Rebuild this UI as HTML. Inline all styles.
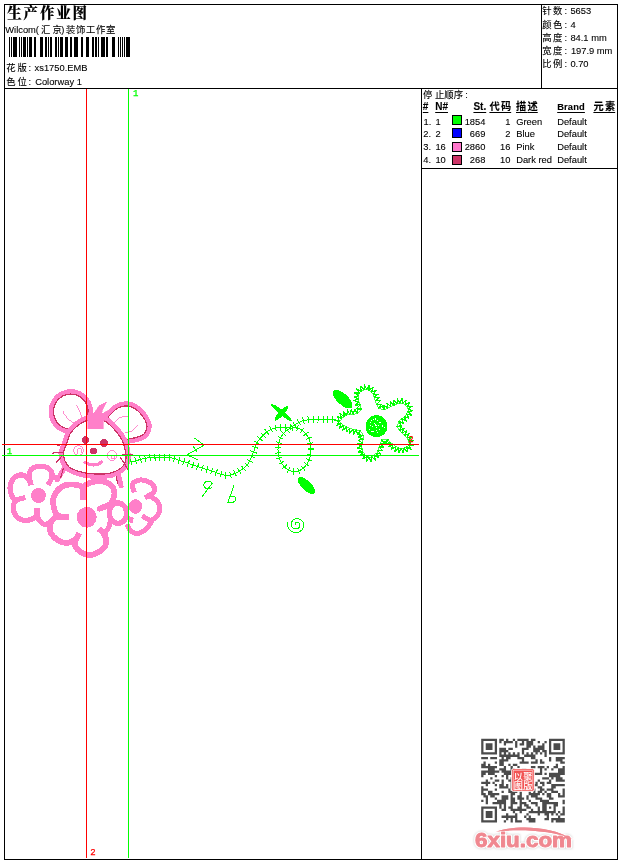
<!DOCTYPE html>
<html lang="zh-CN">
<head>
<meta charset="utf-8">
<title>生产作业图</title>
<style>
html,body{margin:0;padding:0;background:#fff;}
body{width:620px;height:860px;position:relative;overflow:hidden;font-family:"Liberation Sans","Noto Sans CJK SC",sans-serif;font-size:9.33px;color:#000;}
.t{position:absolute;white-space:pre;line-height:12px;height:12px;-webkit-text-stroke:0.1px #000;}
.k{font-size:9.33px;}
.ln{position:absolute;background:#000;}
.b{font-weight:bold;}
.u{text-decoration:underline;text-decoration-thickness:1px;text-underline-offset:1.6px;text-decoration-skip-ink:none;}
.r{text-align:right;}
svg{position:absolute;left:0;top:0;}
</style>
</head>
<body>
<svg width="620" height="860" viewBox="0 0 620 860" shape-rendering="crispEdges">
<path d="M65 467L57.5 479.5" fill="none" stroke="#ff7fc9" stroke-width="5" stroke-linecap="round" stroke-linejoin="round"/>
<path d="M117.5 470L121 486" fill="none" stroke="#ff7fc9" stroke-width="5" stroke-linecap="round" stroke-linejoin="round"/>
<path d="M64.5 465L60.5 478" fill="none" stroke="#cc3366" stroke-width="1.2"/>
<path d="M115.5 473L117.7 484" fill="none" stroke="#cc3366" stroke-width="1.2"/>
<path d="M31 485C30.8 483.8 29.6 480.3 29.5 478C29.4 475.7 29.4 472.8 30.2 471C30.9 469.2 32.4 468.3 34 467.5C35.6 466.7 37.8 466.2 40 466.2C42.2 466.2 45.1 466.5 47 467.5C48.9 468.5 50.7 470.4 51.5 472C52.3 473.6 52.2 475.6 52 477C51.8 478.4 51.2 479.2 50.5 480.5C49.8 481.8 48.4 484.2 48 485" fill="none" stroke="#ff7fc9" stroke-width="5.2" stroke-linecap="butt" stroke-linejoin="round"/>
<path d="M31 485C30.6 484.1 29.7 481.1 28.5 479.5C27.3 477.9 25.8 476.2 24 475.5C22.2 474.8 19.8 474.9 18 475.5C16.2 476.1 14.3 476.9 13 479C11.7 481.1 10.2 485.3 10 488C9.8 490.7 10.7 493.1 11.5 495C12.3 496.9 12.7 499.1 15 499.5C17.3 499.9 23.8 497.8 25.5 497.5" fill="none" stroke="#ff7fc9" stroke-width="5.2" stroke-linecap="butt" stroke-linejoin="round"/>
<path d="M25.5 497.5C23.9 498 18 499.1 16 500.5C14 501.9 13.8 504.1 13.5 506C13.2 507.9 13.2 510 14 512C14.8 514 16.3 516.6 18 518C19.7 519.4 21.8 520.2 24 520.5C26.2 520.8 29 520.2 31 519.5C33 518.8 35 517.8 36 516C37 514.2 36.8 509.8 37 508.5" fill="none" stroke="#ff7fc9" stroke-width="5.2" stroke-linecap="butt" stroke-linejoin="round"/>
<path d="M37 508.5C37.1 509.9 36.8 514.8 37.5 517C38.2 519.2 39.8 520.8 41 522C42.2 523.2 43.7 524.3 45 524.5C46.3 524.7 47.7 523.9 49 523C50.3 522.1 52.3 519.7 53 519" fill="none" stroke="#ff7fc9" stroke-width="5.2" stroke-linecap="butt" stroke-linejoin="round"/>
<path d="M52 477C52.7 477.2 55 477.3 56 478C57 478.7 57.7 480.5 58 481" fill="none" stroke="#ff7fc9" stroke-width="5.2" stroke-linecap="butt" stroke-linejoin="round"/>
<circle cx="38.5" cy="495.5" r="7.4" fill="#ff7fc9"/>
<path d="M134.5 492.5C134.2 491.4 132.4 487.8 132.5 486C132.6 484.2 133.4 482.5 135 481.5C136.6 480.5 139.5 479.8 142 480C144.5 480.2 147.9 481.2 150 482.5C152.1 483.8 154 486.2 154.5 488C155 489.8 153.9 491.8 153 493C152.1 494.2 150.3 494.7 149 495.5C147.7 496.3 145.7 497.6 145 498" fill="none" stroke="#ff7fc9" stroke-width="5" stroke-linecap="butt" stroke-linejoin="round"/>
<path d="M149 495.5C149.9 496.1 152.8 497.6 154.5 499C156.2 500.4 158.1 502.2 159 504C159.9 505.8 160.1 508 159.8 510C159.5 512 158.3 514.3 157 516C155.7 517.7 153.7 519.5 152 520C150.3 520.5 148.6 519.8 147 519C145.4 518.2 143.2 516.1 142.5 515.5" fill="none" stroke="#ff7fc9" stroke-width="5" stroke-linecap="butt" stroke-linejoin="round"/>
<path d="M152 520C151.7 520.7 150.8 522.7 150 524C149.2 525.3 148.3 526.7 147 528C145.7 529.3 143.7 531.1 142 532C140.3 532.9 138.7 533.5 137 533.5C135.3 533.5 133.3 532.8 132 532C130.7 531.2 129.8 529.8 129 528.5C128.2 527.2 127.3 524.8 127 524" fill="none" stroke="#ff7fc9" stroke-width="5" stroke-linecap="butt" stroke-linejoin="round"/>
<path d="M130 522.5C130.2 521.6 131.2 517.9 131.5 517" fill="none" stroke="#ff7fc9" stroke-width="5" stroke-linecap="butt" stroke-linejoin="round"/>
<ellipse cx="135.5" cy="506.5" rx="6.6" ry="7.4" fill="#ff7fc9"/>
<path d="M82.7 486L69 482.5L57.5 487L51.5 497L51 505L53 513L55 516.5L49.5 521L47.5 530L52 538.5L60.5 544L69.5 545L74 543L77 552L86.8 557L96 556L104.5 550.5L108.5 541L106 534L112 527L119.3 528L127 522L129 513.8L127 505L119.3 499.5L114 501L116.5 492.6L112.5 484L101.3 479L89 481Z" fill="#fff"/>
<path d="M82.7 499.8C82.7 497.8 85 490.2 82.7 487.7C80.4 485.1 72.9 484.4 69 484.5C65.1 484.6 61.9 486.4 59.4 488.5C56.9 490.6 54.7 494.7 53.7 497.4C52.7 500.1 53.1 502.3 53.4 504.7C53.7 507.1 54.4 510 55.3 511.9C56.1 513.8 56.2 515.2 58.5 516C60.8 516.8 67.2 516.7 69 516.8" fill="none" stroke="#ff7fc9" stroke-width="5.8" stroke-linecap="butt" stroke-linejoin="round"/>
<path d="M82.7 499.8C82.8 497.8 82.3 490.5 83.5 487.7C84.7 484.9 87 484 90 482.9C93 481.8 97.8 480.6 101.3 481C104.8 481.4 108.8 483.4 111 485.3C113.2 487.2 114.2 490.1 114.5 492.6C114.8 495.2 113.4 498.6 112.6 500.6C111.8 502.6 111.6 503.4 109.4 504.7C107.2 506 101.3 508 99.7 508.7" fill="none" stroke="#ff7fc9" stroke-width="5.8" stroke-linecap="butt" stroke-linejoin="round"/>
<path d="M98.9 528.9C99.7 529.7 102.4 531.7 103.7 533.7C105 535.7 106.6 538.5 106.5 541C106.4 543.5 104.9 546.9 102.9 549C101 551.1 97.5 552.9 94.8 553.9C92.1 554.9 89.5 555.2 86.8 554.7C84.1 554.2 80.7 552.4 78.7 550.6C76.7 548.9 75 546.4 74.7 544.2C74.4 542.1 76 539.6 76.8 537.7C77.5 535.8 78.8 533.7 79.2 532.9" fill="none" stroke="#ff7fc9" stroke-width="5.8" stroke-linecap="butt" stroke-linejoin="round"/>
<path d="M79.2 532.9C78.7 533.8 78 536.9 76.3 538.5C74.6 540.1 71.5 542.1 69 542.6C66.5 543.1 63.5 542.8 61 541.8C58.5 540.8 55.6 538.9 53.7 536.9C51.8 534.9 50.1 532.2 49.7 529.7C49.3 527.2 50.2 523.7 51.3 521.6C52.4 519.5 53.1 518.1 56.1 517.3C59.1 516.5 66.8 516.9 69 516.8" fill="none" stroke="#ff7fc9" stroke-width="5.8" stroke-linecap="butt" stroke-linejoin="round"/>
<path d="M126.6 513.2L126.4 515.2L125.9 517.1L125.1 518.9L124.1 520.4L122.7 521.7L121.2 522.6L119.6 523.2L117.9 523.4L116.2 523.2L114.6 522.6L113.1 521.7L111.7 520.4L110.7 518.9L109.9 517.1L109.4 515.2L109.2 513.2L109.4 511.2L109.9 509.3L110.7 507.5L111.7 506L113.1 504.7L114.6 503.8L116.2 503.2L117.9 503L119.6 503.2L121.2 503.8L122.7 504.7L124.1 506L125.1 507.5L125.9 509.3L126.4 511.2L126.6 513.2Z" fill="none" stroke="#ff7fc9" stroke-width="5.3999999999999995" stroke-linecap="round" stroke-linejoin="round"/>
<path d="M99.7 508.7L109.4 504.7L113 503" fill="none" stroke="#ff7fc9" stroke-width="5.8" stroke-linecap="round" stroke-linejoin="round"/>
<path d="M110.5 520C110 526 107 531 103.7 533.7" fill="none" stroke="#ff7fc9" stroke-width="5.2" stroke-linecap="butt" stroke-linejoin="round"/>
<ellipse cx="86.7" cy="517.3" rx="10" ry="10.4" fill="#ff7fc9"/>
<path d="M88.1 411.6L87.9 414.3L87.3 417L86.2 419.5L84.8 421.9L83 424L81 425.8L78.7 427.2L76.1 428.2L73.5 428.9L70.8 429.1L68.1 428.9L65.5 428.2L62.9 427.2L60.6 425.8L58.6 424L56.8 421.9L55.4 419.5L54.3 417L53.7 414.3L53.5 411.6L53.7 408.9L54.3 406.2L55.4 403.7L56.8 401.3L58.6 399.2L60.6 397.4L62.9 396L65.5 395L68.1 394.3L70.8 394.1L73.5 394.3L76.1 395L78.7 396L81 397.4L83 399.2L84.8 401.3L86.2 403.7L87.3 406.2L87.9 408.9L88.1 411.6Z" fill="#fff" stroke="#ff7fc9" stroke-width="9.8" stroke-linecap="round" stroke-linejoin="round"/>
<path d="M88.1 411.6L87.9 414.3L87.3 417L86.2 419.5L84.8 421.9L83 424L81 425.8L78.7 427.2L76.1 428.2L73.5 428.9L70.8 429.1L68.1 428.9L65.5 428.2L62.9 427.2L60.6 425.8L58.6 424L56.8 421.9L55.4 419.5L54.3 417L53.7 414.3L53.5 411.6L53.7 408.9L54.3 406.2L55.4 403.7L56.8 401.3L58.6 399.2L60.6 397.4L62.9 396L65.5 395L68.1 394.3L70.8 394.1L73.5 394.3L76.1 395L78.7 396L81 397.4L83 399.2L84.8 401.3L86.2 403.7L87.3 406.2L87.9 408.9L88.1 411.6Z" fill="#fff" stroke="#cc3366" stroke-width="1.25"/>
<path d="M108 419C107.7 415.8 110.3 414.8 112 413C113.7 411.2 115.3 409.2 118 408C120.7 406.8 124.7 405.5 128 406C131.3 406.5 135.2 408.7 138 411C140.8 413.3 143.5 417.3 145 420C146.5 422.7 147.2 424.7 147 427C146.8 429.3 145.5 432.3 144 434C142.5 435.7 140.2 436.2 138 437C135.8 437.8 133.2 438.2 131 438.5C128.8 438.8 127.3 440.1 124.5 439C121.7 437.9 116.8 435.3 114 432C111.2 428.7 108.3 422.2 108 419Z" fill="#fff" stroke="#ff7fc9" stroke-width="9.4" stroke-linecap="round" stroke-linejoin="round"/>
<path d="M108 419C107.7 415.8 110.3 414.8 112 413C113.7 411.2 115.3 409.2 118 408C120.7 406.8 124.7 405.5 128 406C131.3 406.5 135.2 408.7 138 411C140.8 413.3 143.5 417.3 145 420C146.5 422.7 147.2 424.7 147 427C146.8 429.3 145.5 432.3 144 434C142.5 435.7 140.2 436.2 138 437C135.8 437.8 133.2 438.2 131 438.5C128.8 438.8 127.3 440.1 124.5 439C121.7 437.9 116.8 435.3 114 432C111.2 428.7 108.3 422.2 108 419Z" fill="#fff" stroke="#cc3366" stroke-width="1.25"/>
<path d="M63 411C63.8 412.3 66 416.9 68 419C70 421.1 73.8 422.8 75 423.5" fill="none" stroke="#ff7fc9" stroke-width="0.9"/>
<path d="M76.5 405C77.1 406.2 79.1 409.7 80 412C80.9 414.3 81.7 417.8 82 419" fill="none" stroke="#ff7fc9" stroke-width="0.9"/>
<path d="M113.2 423.9C114.2 422.9 116.5 419.3 119 418C121.5 416.7 126.4 416.3 127.9 416" fill="none" stroke="#ff7fc9" stroke-width="0.9"/>
<path d="M124.5 432.7C125.8 432.4 129.8 432.3 132 431C134.2 429.7 137 426 138 425" fill="none" stroke="#ff7fc9" stroke-width="0.9"/>
<path d="M63.5 452C64 450.2 65.4 447 66.5 444C67.6 441 68.6 436.7 70 434C71.4 431.3 73.3 429.7 75 428C76.7 426.3 78 425.2 80 424C82 422.8 84.3 421.5 87 420.5C89.7 419.5 92.9 417.8 96 418C99.1 418.2 102.7 419.8 105.5 421.5C108.3 423.2 110.9 425.9 113 428C115.1 430.1 116.5 432 118 434C119.5 436 120.9 437.8 122 440C123.1 442.2 123.8 444.5 124.5 447C125.2 449.5 125.8 452.7 126 455C126.2 457.3 126 459.2 125.5 461C125 462.8 124.2 464.5 123 466C121.8 467.5 120 468.8 118 470C116 471.2 113.5 472.3 111 473C108.5 473.7 105.5 473.8 103 474C100.5 474.2 98.5 474.1 96 474C93.5 473.9 90.5 473.8 88 473.5C85.5 473.2 83.2 472.6 81 472C78.8 471.4 77 470.8 75 470C73 469.2 70.7 468.5 69 467C67.3 465.5 65.9 463 65 461C64.1 459 63.8 456.5 63.5 455C63.2 453.5 63 453.8 63.5 452Z" fill="#fff" stroke="#ff7fc9" stroke-width="9.6" stroke-linecap="round" stroke-linejoin="round"/>
<path d="M63.5 452C64 450.2 65.4 447 66.5 444C67.6 441 68.6 436.7 70 434C71.4 431.3 73.3 429.7 75 428C76.7 426.3 78 425.2 80 424C82 422.8 84.3 421.5 87 420.5C89.7 419.5 92.9 417.8 96 418C99.1 418.2 102.7 419.8 105.5 421.5C108.3 423.2 110.9 425.9 113 428C115.1 430.1 116.5 432 118 434C119.5 436 120.9 437.8 122 440C123.1 442.2 123.8 444.5 124.5 447C125.2 449.5 125.8 452.7 126 455C126.2 457.3 126 459.2 125.5 461C125 462.8 124.2 464.5 123 466C121.8 467.5 120 468.8 118 470C116 471.2 113.5 472.3 111 473C108.5 473.7 105.5 473.8 103 474C100.5 474.2 98.5 474.1 96 474C93.5 473.9 90.5 473.8 88 473.5C85.5 473.2 83.2 472.6 81 472C78.8 471.4 77 470.8 75 470C73 469.2 70.7 468.5 69 467C67.3 465.5 65.9 463 65 461C64.1 459 63.8 456.5 63.5 455C63.2 453.5 63 453.8 63.5 452Z" fill="#fff" stroke="#cc3366" stroke-width="1.25"/>
<path d="M87.5 428.5L87.5 416L90 409L92 414L95 412L99.5 405L106.5 402L102.5 410L101.5 414L105 412L111 409L113 411L106 418L103 422L103 428.5Z" fill="#ff7fc9" stroke="#ff7fc9" stroke-width="0.6"/>
<ellipse cx="85.5" cy="440" rx="3.5" ry="4" fill="#cc3366"/>
<ellipse cx="104" cy="443" rx="4" ry="3.8" fill="#cc3366"/>
<ellipse cx="93.5" cy="451" rx="3.6" ry="3.2" fill="#cc3366"/>
<circle cx="78.5" cy="450.5" r="4.8" fill="none" stroke="#ff7fc9" stroke-width="0.9"/>
<path d="M77 453.5V450.5A2.2 2.2 0 0 1 81.4 450.5V453" fill="none" stroke="#ff7fc9" stroke-width="0.9"/>
<circle cx="112" cy="455.5" r="4.8" fill="none" stroke="#ff7fc9" stroke-width="0.9"/>
<circle cx="113" cy="457" r="2" fill="none" stroke="#ff7fc9" stroke-width="0.9"/>
<path d="M85 462.2C85.7 462.5 87.6 463.8 89 464.2C90.4 464.6 92 464.9 93.5 464.9C95 464.9 96.7 464.6 98 464.1C99.3 463.6 101 462.3 101.6 461.9" fill="none" stroke="#ff7fc9" stroke-width="3.2" stroke-linecap="round" stroke-linejoin="round"/>
<path d="M52 453.5L55 452.5H64M57 445.5H60M56 463L61.5 456.5" fill="none" stroke="#cc3366" stroke-width="1.2"/>
<path d="M122 454.5H133M120.5 457.5L128 469.5" fill="none" stroke="#cc3366" stroke-width="1.2"/>
<g shape-rendering="crispEdges">
<path d="M131 462L131.4 461.9L131.9 461.8L132.4 461.6L133 461.4L133.7 461.3L134.4 461.1L135.2 460.9L135.9 460.7L136.6 460.5L137.3 460.3L137.9 460.1L138.6 460L139.2 459.8L139.8 459.6L140.5 459.4L141.1 459.3L141.8 459.1L142.5 458.9L143.2 458.8L144 458.6L144.8 458.4L145.6 458.3L146.5 458.1L147.4 458L148.3 457.8L149.2 457.7L150.1 457.6L151.1 457.5L152 457.4L153 457.3L154 457.2L155 457.2L156 457.2L157 457.2L158.1 457.2L159.1 457.2L160.2 457.2L161.2 457.2L162.3 457.3L163.3 457.3L164.3 457.4L165.4 457.4L166.5 457.5L167.6 457.6L168.6 457.7L169.7 457.8L170.7 457.9L171.7 458L172.6 458.2L173.4 458.3L174.1 458.5L174.8 458.6L175.3 458.8L175.8 459L176.3 459.2L176.8 459.4L177.3 459.6L177.8 459.9L178.4 460.1L179 460.3L179.7 460.5L180.5 460.8L181.3 461L182.1 461.3L182.9 461.5L183.8 461.8L184.6 462L185.4 462.3L186.2 462.5L187 462.8L187.7 463L188.4 463.3L189 463.5L189.7 463.8L190.3 464L190.9 464.3L191.6 464.5L192.3 464.8L193 465L193.7 465.3L194.5 465.6L195.3 465.9L196.2 466.2L197 466.4L197.9 466.7L198.8 467L199.7 467.3L200.6 467.6L201.5 467.9L202.4 468.2L203.3 468.5L204.3 468.8L205.2 469L206.2 469.3L207.2 469.6L208.1 469.8L209.1 470.1L209.9 470.3L210.8 470.6L211.5 470.8L212.2 471L212.7 471.2L213.3 471.4L213.7 471.6L214.2 471.8L214.6 472L215 472.1L215.5 472.3L216 472.5L216.5 472.7L217.1 472.9L217.7 473.1L218.3 473.4L218.9 473.6L219.5 473.8L220.1 474.1L220.8 474.3L221.4 474.5L222.1 474.7L222.7 474.8L223.4 474.9L224 475L224.7 475.1L225.4 475.2L226.1 475.3L226.8 475.4L227.5 475.4L228.2 475.4L228.9 475.4L229.5 475.3L230.1 475.2L230.7 475.1L231.3 474.9L231.9 474.7L232.5 474.5L233.1 474.2L233.6 474L234.2 473.8L234.7 473.5L235.2 473.3L235.7 473.1L236.2 472.9L236.6 472.7L237.1 472.4L237.5 472.2L238 472L238.4 471.8L238.8 471.5L239.3 471.3L239.7 471L240.2 470.7L240.6 470.4L241.1 470.1L241.5 469.8L242 469.5L242.4 469.1L242.9 468.8L243.3 468.4L243.8 468.1L244.2 467.7L244.6 467.3L245 467L245.4 466.6L245.9 466.2L246.2 465.9L246.6 465.5L247 465L247.4 464.6L247.8 464.2L248.1 463.7L248.4 463.2L248.7 462.7L249 462.1L249.3 461.6L249.6 461L249.9 460.4L250.2 459.8L250.4 459.2L250.7 458.6L251 458L251.3 457.4L251.6 456.7L251.9 456.1L252.1 455.4L252.4 454.8L252.7 454.1L253 453.4L253.2 452.7L253.5 452L253.8 451.3L254.1 450.6L254.3 449.8L254.6 449.1L254.8 448.3L255.1 447.5L255.3 446.7L255.6 446L255.9 445.2L256.2 444.5L256.5 443.8L256.9 443.1L257.3 442.5L257.7 441.8L258.1 441.2L258.5 440.6L259 440L259.5 439.4L259.9 438.8L260.4 438.3L260.9 437.7L261.4 437.1L261.9 436.6L262.4 436L262.9 435.5L263.4 435L263.9 434.5L264.4 434L264.9 433.5L265.5 433L266 432.6L266.5 432.2L267.1 431.8L267.6 431.3L268.2 431L268.8 430.6L269.3 430.2L269.9 429.9L270.5 429.6L271.2 429.3L271.8 429L272.5 428.8L273.1 428.5L273.9 428.3L274.6 428.1L275.3 428L276 427.8L276.8 427.7L277.5 427.6L278.3 427.5L279 427.4L279.7 427.3L280.5 427.3L281.2 427.3L282 427.3L282.7 427.3L283.5 427.3L284.2 427.3L284.9 427.3L285.6 427.3L286.3 427.3L286.9 427.3L287.6 427.2L288.2 427.2L288.8 427.2L289.4 427.1L290 427.1L290.5 427L291.1 426.9L291.6 426.8L292.1 426.6L292.6 426.4L293 426.2L293.5 425.9L293.9 425.7L294.3 425.4L294.7 425.1L295.1 424.8L295.6 424.5L296 424.2L296.5 423.9L297 423.6L297.5 423.3L298 423L298.6 422.7L299.1 422.4L299.7 422.1L300.3 421.8L300.9 421.5L301.6 421.2L302.3 421L303 420.8L303.8 420.6L304.6 420.4L305.4 420.2L306.3 420.1L307.2 419.9L308.1 419.8L309 419.7L310 419.6L311 419.5L312 419.4L313.1 419.4L314.2 419.4L315.3 419.4L316.5 419.4L317.7 419.4L318.9 419.5L320.1 419.5L321.4 419.5L322.6 419.5L323.9 419.5L325.4 419.5L326.9 419.5L328.5 419.5L330 419.5L331.5 419.5L332.9 419.5L334.1 419.5L335.2 419.5L336 419.5" fill="none" stroke="#00ff00" stroke-width="1"/>
<path d="M130.1 458.7L131.9 465.3M134.8 457.4L136.6 464M139.6 456.2L141.4 462.7M144.6 455L145.9 461.7M149.6 454.2L150.5 461M154.8 453.8L155.1 460.6M159.9 453.8L159.8 460.6M165 454L164.5 460.8M170 454.4L169.3 461.2M175.3 455.3L173.6 461.8M180.1 457.1L178 463.5M184.7 458.5L182.7 465M189.5 460.1L187.2 466.5M194.1 461.8L191.8 468.2M198.7 463.4L196.5 469.9M203.3 464.9L201.2 471.4M207.9 466.2L206.1 472.8M212.7 467.6L210.6 474.1M217.4 469.4L215.1 475.8M221.8 471.1L219.8 477.6M226 471.9L225.3 478.6M229.8 471.8L231.3 478.4M233.7 470.2L236.4 476.5M237.7 468.3L241.2 474.1M241.3 465.7L245.6 471M244.5 462.8L249.6 467.3M246.6 459.5L252.7 462.4M248.6 455.1L254.8 457.8M250.4 450.7L256.7 453.1M251.9 446.2L258.4 448.3M254.2 441L260 444.5M257.3 436.7L262.6 441M260.8 432.8L265.6 437.5M264.8 429.2L268.9 434.6M269.6 426.3L272.5 432.4M275 424.6L276.3 431.2M280.5 423.9L280.6 430.7M285.4 423.9L285.5 430.7M289.9 423.6L290.8 430.4M292.8 422.3L296.8 427.8M297.3 419.5L300.6 425.4M302.6 417.4L304.3 424M307.9 416.4L308.7 423.1M313.1 416L313.2 422.8M318.1 416L318 422.8M323 416.1L323 422.9M327.9 416.1L327.9 422.9M332.8 416.1L332.8 422.9" fill="none" stroke="#00ff00" stroke-width="1"/>
<path d="M311 449.7L310.9 452L310.6 454.2L310.2 456.4L309.6 458.6L308.8 460.6L307.8 462.5L306.8 464.3L305.5 465.9L304.2 467.3L302.8 468.6L301.2 469.6L299.6 470.4L297.9 471L296.2 471.4L294.5 471.5L292.8 471.4L291.1 471L289.4 470.4L287.8 469.6L286.2 468.6L284.8 467.3L283.5 465.9L282.2 464.3L281.2 462.5L280.2 460.6L279.4 458.6L278.8 456.4L278.4 454.2L278.1 452L278 449.7L278.1 447.4L278.4 445.2L278.8 443L279.4 440.8L280.2 438.8L281.2 436.9L282.2 435.1L283.5 433.5L284.8 432.1L286.2 430.8L287.8 429.8L289.4 429L291.1 428.4L292.8 428L294.5 427.9L296.2 428L297.9 428.4L299.6 429L301.2 429.8L302.8 430.8L304.2 432.1L305.5 433.5L306.8 435.1L307.8 436.9L308.8 438.8L309.6 440.8L310.2 443L310.6 445.2L310.9 447.4L311 449.7Z" fill="none" stroke="#00ff00" stroke-width="1"/>
<path d="M314.2 449.8L307.8 449.6M313.6 455.5L307.4 454.2M312.1 461L306.1 458.7M309.2 466.4L304.1 462.5M305.2 470.7L301.1 465.8M299.7 473.8L297.6 467.8M293.3 474.6L293.7 468.2M287.1 472.9L290 467.2M282.1 469.1L286.7 464.7M278.6 464.4L284 461.1M276.2 458.9L282.3 457.1M275 453.3L281.4 452.5M274.9 447.6L281.3 447.9M275.8 441.7L282 443.5M277.9 436.3L283.6 439.2M281.2 431.2L285.9 435.6M285.7 427.3L289.3 432.7M291.6 425L292.9 431.3M298.1 425.1L296.8 431.4M303.9 427.8L300.4 433.1M308.4 432L303.3 435.9M311.5 437L305.7 439.8M313.4 442.7L307.1 443.9M314.1 448.3L307.8 448.6" fill="none" stroke="#00ff00" stroke-width="1"/>
<path d="M194.4 437.9L204 445.2L187.1 454.8L198.4 460.2M193 446L197 452" fill="none" stroke="#00ff00" stroke-width="1"/>
<path d="M212.3 484A4.3 4 0 1 0 211.5 487.5M212.3 483L202.3 496.5" fill="none" stroke="#00ff00" stroke-width="1"/>
<path d="M234.2 484.4L228 502.3C233 503.5 236.5 501 236 498.5C235.5 496 232 495.5 229.8 497" fill="none" stroke="#00ff00" stroke-width="1"/>
</g>
<path d="M272 405C277 406 287 414 291 420.3C286 419 277 411 272 405ZM287.6 406.5C287 411 280 418 275.4 420C276 415.5 283 408.5 287.6 406.5Z" fill="#00ff00" stroke="#00ff00" stroke-width="1.6" stroke-linejoin="round"/>
<ellipse cx="342.7" cy="399.2" rx="12.3" ry="5.5" transform="rotate(43 342.7 399.2)" fill="#00ff00"/>
<ellipse cx="306.4" cy="485.5" rx="11.2" ry="4.7" transform="rotate(44 306.4 485.5)" fill="#00ff00"/>
<path d="M295.4 525.1L295.2 525L295.1 524.8L295.1 524.6L295 524.4L295 524.2L295 524L295 523.8L295.1 523.5L295.2 523.3L295.4 523.1L295.6 522.9L295.8 522.7L296.1 522.6L296.4 522.5L296.7 522.4L297 522.4L297.4 522.4L297.7 522.4L298.1 522.5L298.4 522.7L298.7 522.9L299 523.2L299.3 523.5L299.5 523.8L299.7 524.2L299.8 524.6L299.9 525L299.9 525.4L299.9 525.9L299.7 526.3L299.5 526.8L299.3 527.2L299 527.6L298.6 527.9L298.2 528.2L297.7 528.5L297.1 528.7L296.6 528.8L296 528.9L295.4 528.8L294.8 528.7L294.2 528.6L293.7 528.3L293.1 528L292.6 527.6L292.2 527.1L291.8 526.6L291.5 526L291.3 525.4L291.2 524.7L291.2 524L291.2 523.3L291.4 522.7L291.6 522L292 521.4L292.4 520.8L293 520.2L293.6 519.8L294.3 519.4L295 519.1L295.8 518.8L296.6 518.7L297.5 518.7L298.3 518.8L299.2 519L300 519.3L300.7 519.8L301.4 520.3L302.1 520.9L302.6 521.6L303.1 522.4L303.4 523.2L303.7 524.1L303.8 525L303.7 525.9L303.6 526.8L303.3 527.7L302.9 528.6L302.3 529.4L301.7 530.2L300.9 530.8L300.1 531.4L299.1 531.9L298.1 532.2L297.1 532.4L296 532.5L294.9 532.5L293.8 532.3L292.7 531.9L291.7 531.5L290.7 530.9L289.9 530.1L289.1 529.3L288.5 528.4L288 527.3L287.6 526.3L287.4 525.1L287.3 524L287.4 522.8L287.7 521.6" fill="none" stroke="#00ff00" stroke-width="1" shape-rendering="crispEdges"/>
<path d="M339.5 420.9L337.2 416.5L341.7 418.5L340.1 413.8L344.3 416.4L343.3 411.6L346.8 415L347.5 410.1L349.8 414.4L351.3 409.7L353.4 414.2L354.7 409.4L357.4 413.6L357.1 408.8L361.4 409.1L356.6 408.3L360.1 404.8L355.2 405L358.8 401.7L354 400.7L358.6 398.8L354 397L358.7 395.6L354.6 392.9L359.4 393L356.8 388.9L361.2 391.2L360.4 386.3L364 389.8L364.5 385L366.7 389.4L369.3 385.4L368.9 390.3L372.9 387.6L371.3 392.2L375.9 390.4L373.2 394.5L378.1 394.1L374.3 397.2L379.2 397.8L375.2 400.8L380.2 400.9L376.6 404.3L381.5 404.2L378.4 408.1L382.4 405.7L384 410.1L383.9 405.2L387.8 408.3L387 403.4L390.8 406.6L390.5 401.7L394 405.2L393.8 400.3L397.2 403.9L397.4 398.9L399.9 403.1L401.9 398.6L402.6 403.5L406 400L405.3 404.9L409.4 402.3L407.3 406.8L412.1 406.2L408.1 409.1L412.8 410.7L408 411.6L411.3 415.2L406.6 413.9L408.8 418.3L404.2 416.5L406.1 421.1L401.8 418.7L403.3 423.4L398.8 421.1L401.2 425.5L397 426.8L401.7 425.9L399.6 430.4L404.1 428.4L402 432.8L406.6 431L404.6 435.6L409.1 433.6L407 438L411.8 436.7L408.5 440.4L413.4 440.7L409.1 443.1L413.6 445.2L408.7 445.4L411.2 449.5L406.9 446.9L407.4 451.8L404.2 448L403.3 452.8L401.2 448.3L399 452.7L398.3 447.9L394.9 451.4L395.8 446.5L391.6 449.1L393.1 444.4L388.8 446.9L390.3 442.2L385.9 444.2L388.1 439.7L385.2 442.6L381.7 440L385.1 443.7L380.2 443.9L384 447.1L379 447.1L382.6 450.5L377.6 450.5L381 454.1L376.2 453.3L378.6 457.6L374.2 455.3L375.4 460.1L371.7 456.9L371.1 461.9L369.3 457.3L366.5 461.2L367.1 456.3L362.9 459L364.7 454.4L360 455.8L363 451.9L358.2 452.1L362.1 449.1L357.2 448.1L361.8 446.2L357.5 443.9L362.4 443L358.3 440.2L363.1 439.4L358.8 437L363.5 435.5L359 434.9L360.1 430.4L357.5 434.5L356.1 429.8L353.8 434.1L352.9 429.3L349.9 433.2L349.8 428.2L346.4 431.8L346.7 426.9L342.9 430.1L343.7 425.2L339.7 428.1L341 423.4L336.6 425.6L339.1 421.4L334.7 420.1Z" fill="none" stroke="#00ff00" stroke-width="1.25" stroke-linejoin="round"/>
<path d="M339.5 420.9L341.7 418.5L344.3 416.4L346.8 415L349.8 414.4L353.4 414.2L357.4 413.6L361.4 409.1L360.1 404.8L358.8 401.7L358.6 398.8L358.7 395.6L359.4 393L361.2 391.2L364 389.8L366.7 389.4L368.9 390.3L371.3 392.2L373.2 394.5L374.3 397.2L375.2 400.8L376.6 404.3L378.4 408.1L384 410.1L387.8 408.3L390.8 406.6L394 405.2L397.2 403.9L399.9 403.1L402.6 403.5L405.3 404.9L407.3 406.8L408.1 409.1L408 411.6L406.6 413.9L404.2 416.5L401.8 418.7L398.8 421.1L397 426.8L399.6 430.4L402 432.8L404.6 435.6L407 438L408.5 440.4L409.1 443.1L408.7 445.4L406.9 446.9L404.2 448L401.2 448.3L398.3 447.9L395.8 446.5L393.1 444.4L390.3 442.2L388.1 439.7L381.7 440L380.2 443.9L379 447.1L377.6 450.5L376.2 453.3L374.2 455.3L371.7 456.9L369.3 457.3L367.1 456.3L364.7 454.4L363 451.9L362.1 449.1L361.8 446.2L362.4 443L363.1 439.4L363.5 435.5L360.1 430.4L356.1 429.8L352.9 429.3L349.8 428.2L346.7 426.9L343.7 425.2L341 423.4L339.1 421.4Z" fill="none" stroke="#00ff00" stroke-width="0.7"/>
<circle cx="376.5" cy="426.2" r="11" fill="#00ff00"/>
<path d="M376.9 432.1h1v1h-1zM372.2 430.8h1v1h-1zM375.3 425h1v1h-1zM384.1 426.8h1v1h-1zM376.3 429.8h1v1h-1zM381.9 426.1h1v1h-1zM379.3 421.5h1v1h-1zM374.7 424.1h1v1h-1zM371.3 420.3h1v1h-1zM369.5 425.2h1v1h-1zM375.7 424.8h1v1h-1zM376.8 420h1v1h-1zM376.2 427.2h1v1h-1zM380.1 422.1h1v1h-1zM375 418.5h1v1h-1zM374.7 418.3h1v1h-1zM370.6 430.8h1v1h-1zM368.8 429h1v1h-1zM378 424.7h1v1h-1zM378.7 428.8h1v1h-1zM381.5 425.1h1v1h-1zM373.6 423.2h1v1h-1zM371.7 426h1v1h-1zM372.8 431.2h1v1h-1zM369.6 422.2h1v1h-1zM373.1 418.8h1v1h-1z" fill="#fff"/>
</svg>
<div class="ln" style="left:4px;top:4px;width:614px;height:1px;"></div>
<div class="ln" style="left:4px;top:859px;width:614px;height:1px;"></div>
<div class="ln" style="left:4px;top:4px;width:1px;height:856px;"></div>
<div class="ln" style="left:617px;top:4px;width:1px;height:856px;"></div>
<div class="ln" style="left:4px;top:88px;width:614px;height:1px;"></div>
<div class="ln" style="left:541px;top:4px;width:1px;height:85px;"></div>
<div class="ln" style="left:421px;top:88px;width:1px;height:772px;"></div>
<div class="ln" style="left:421px;top:168px;width:197px;height:1px;"></div>
<div class="ln" style="left:86px;top:89px;width:1px;height:769px;background:#f00;"></div>
<div class="ln" style="left:128px;top:89px;width:1px;height:769px;background:#0f0;"></div>
<div class="ln" style="left:2px;top:444px;width:417px;height:1px;background:#f00;"></div>
<div class="ln" style="left:2px;top:455px;width:417px;height:1px;background:#0f0;"></div>
<div class="t" style="left:7.2px;top:2.6px;height:20px;line-height:20px;font-size:14.5px;letter-spacing:1.85px;font-weight:900;font-family:'Liberation Serif','Noto Serif CJK SC',serif;">生产作业图</div>
<div class="t " style="top:23.77px;left:5.3px;">Wilcom(</div>
<div class="t " style="top:23.77px;left:40.9px;">汇</div>
<div class="t " style="top:23.77px;left:52.6px;">京</div>
<div class="t " style="top:23.77px;left:61.2px;">)</div>
<div class="t " style="top:23.77px;left:66px;letter-spacing:0.7px;">装饰工作室</div>
<div class="t " style="top:61.57px;left:6.3px;letter-spacing:1.9px;">花版</div>
<div class="t " style="top:61.57px;left:28.6px;">:</div>
<div class="t " style="top:61.57px;left:34.6px;">xs1750.EMB</div>
<div class="t " style="top:75.67px;left:6.3px;letter-spacing:1.9px;">色位</div>
<div class="t " style="top:75.67px;left:28.6px;">:</div>
<div class="t " style="top:75.67px;left:35.2px;">Colorway 1</div>
<svg width="140" height="60" style="left:0;top:0" shape-rendering="crispEdges"><rect x="9" y="37" width="1" height="20"/><rect x="11" y="37" width="1" height="20"/><rect x="13" y="37" width="4" height="20"/><rect x="19" y="37" width="1" height="20"/><rect x="21" y="37" width="1" height="20"/><rect x="23" y="37" width="3" height="20"/><rect x="27" y="37" width="1" height="20"/><rect x="29" y="37" width="3" height="20"/><rect x="34" y="37" width="2" height="20"/><rect x="40" y="37" width="3" height="20"/><rect x="45" y="37" width="2" height="20"/><rect x="48" y="37" width="1" height="20"/><rect x="50" y="37" width="2" height="20"/><rect x="55" y="37" width="2" height="20"/><rect x="58" y="37" width="1" height="20"/><rect x="60" y="37" width="3" height="20"/><rect x="65" y="37" width="3" height="20"/><rect x="70" y="37" width="2" height="20"/><rect x="74" y="37" width="4" height="20"/><rect x="81" y="37" width="2" height="20"/><rect x="86" y="37" width="3" height="20"/><rect x="92" y="37" width="2" height="20"/><rect x="95" y="37" width="2" height="20"/><rect x="98" y="37" width="1" height="20"/><rect x="101" y="37" width="4" height="20"/><rect x="106" y="37" width="2" height="20"/><rect x="112" y="37" width="3" height="20"/><rect x="118" y="37" width="1" height="20"/><rect x="120" y="37" width="1" height="20"/><rect x="122" y="37" width="1" height="20"/><rect x="124" y="37" width="1" height="20"/><rect x="126" y="37" width="4" height="20"/></svg>
<div class="t " style="top:5.47px;left:542.2px;letter-spacing:1.4px;">针数</div>
<div class="t " style="top:5.47px;left:564.4px;">:</div>
<div class="t " style="top:5.47px;left:570.4px;">5653</div>
<div class="t " style="top:18.67px;left:542.2px;letter-spacing:1.4px;">颜色</div>
<div class="t " style="top:18.67px;left:564.4px;">:</div>
<div class="t " style="top:18.67px;left:570.4px;">4</div>
<div class="t " style="top:31.87px;left:542.2px;letter-spacing:1.4px;">高度</div>
<div class="t " style="top:31.87px;left:564.4px;">:</div>
<div class="t " style="top:31.87px;left:570.4px;">84.1 mm</div>
<div class="t " style="top:45.07px;left:542.2px;letter-spacing:1.4px;">宽度</div>
<div class="t " style="top:45.07px;left:564.4px;">:</div>
<div class="t " style="top:45.07px;left:570.9px;">197.9 mm</div>
<div class="t " style="top:58.27px;left:542.2px;letter-spacing:1.4px;">比例</div>
<div class="t " style="top:58.27px;left:564.4px;">:</div>
<div class="t " style="top:58.27px;left:570.4px;">0.70</div>
<div class="t " style="top:88.67px;left:422.9px;">停</div>
<div class="t " style="top:88.67px;left:435px;">止顺序</div>
<div class="t " style="top:88.67px;left:465.3px;">:</div>
<div class="t b u" style="top:101.37px;left:422.8px;font-size:10px;">#</div>
<div class="t b u" style="top:101.37px;left:435.2px;font-size:10px;">N#</div>
<div class="t b u" style="top:101.37px;right:133.8px;font-size:10px;">St.</div>
<div class="t b u" style="top:101.37px;left:489.4px;font-size:10.2px;"><span style="letter-spacing:1.4px">代</span>码</div>
<div class="t b u" style="top:101.37px;left:516px;font-size:10.2px;"><span style="letter-spacing:1.4px">描</span>述</div>
<div class="t b u" style="top:101.37px;left:557.2px;letter-spacing:0.15px;">Brand</div>
<div class="t b u" style="top:101.37px;left:593.4px;font-size:10.2px;"><span style="letter-spacing:1.4px">元</span>素</div>
<div class="t " style="top:115.57px;left:423.6px;">1.</div>
<div class="t " style="top:115.57px;left:435.4px;">1</div>
<div style="position:absolute;left:452px;top:115px;width:8px;height:8px;border:1px solid #000;background:#00ff00;"></div>
<div class="t " style="top:115.57px;right:134.6px;">1854</div>
<div class="t " style="top:115.57px;right:109.6px;">1</div>
<div class="t " style="top:115.57px;left:516.2px;">Green</div>
<div class="t " style="top:115.57px;left:557.2px;">Default</div>
<div class="t " style="top:128.47px;left:423.2px;">2.</div>
<div class="t " style="top:128.47px;left:435.4px;">2</div>
<div style="position:absolute;left:452px;top:128px;width:8px;height:8px;border:1px solid #000;background:#0000ff;"></div>
<div class="t " style="top:128.47px;right:134.6px;">669</div>
<div class="t " style="top:128.47px;right:109.6px;">2</div>
<div class="t " style="top:128.47px;left:516.2px;">Blue</div>
<div class="t " style="top:128.47px;left:557.2px;">Default</div>
<div class="t " style="top:141.37px;left:423.2px;">3.</div>
<div class="t " style="top:141.37px;left:435.4px;">16</div>
<div style="position:absolute;left:452px;top:142px;width:8px;height:8px;border:1px solid #000;background:#ff77cc;"></div>
<div class="t " style="top:141.37px;right:134.6px;">2860</div>
<div class="t " style="top:141.37px;right:109.6px;">16</div>
<div class="t " style="top:141.37px;left:516.2px;">Pink</div>
<div class="t " style="top:141.37px;left:557.2px;">Default</div>
<div class="t " style="top:154.27px;left:423.2px;">4.</div>
<div class="t " style="top:154.27px;left:435.4px;">10</div>
<div style="position:absolute;left:452px;top:155px;width:8px;height:8px;border:1px solid #000;background:#cc3366;"></div>
<div class="t " style="top:154.27px;right:134.6px;">268</div>
<div class="t " style="top:154.27px;right:109.6px;">10</div>
<div class="t " style="top:154.27px;left:516.2px;">Dark red</div>
<div class="t " style="top:154.27px;left:557.2px;">Default</div>
<div class="t" style="left:133px;top:89.2px;font-size:9px;line-height:10px;height:10px;color:#0f0;-webkit-text-stroke:0.25px #0f0;font-family:'Liberation Mono',monospace;">1</div>
<div class="t" style="left:6.8px;top:447.4px;font-size:9px;line-height:10px;height:10px;color:#0f0;-webkit-text-stroke:0.25px #0f0;font-family:'Liberation Mono',monospace;">1</div>
<div class="t" style="left:408.3px;top:435.4px;font-size:9px;line-height:10px;height:10px;color:#f00;-webkit-text-stroke:0.25px #f00;font-family:'Liberation Mono',monospace;">2</div>
<div class="t" style="left:90.3px;top:848.4px;font-size:9px;line-height:10px;height:10px;color:#f00;-webkit-text-stroke:0.25px #f00;font-family:'Liberation Mono',monospace;">2</div>
<svg width="620" height="860" viewBox="0 0 620 860">
<defs><filter id="bl" x="-5%" y="-5%" width="110%" height="110%"><feGaussianBlur stdDeviation="0.45"/></filter><filter id="gl" x="-10%" y="-30%" width="120%" height="160%"><feGaussianBlur stdDeviation="1.1"/></filter></defs>
<path d="M481.20 738.80h15.82v2.26h-15.82zM499.28 738.80h4.52v2.26h-4.52zM506.05 738.80h2.26v2.26h-2.26zM512.83 738.80h2.26v2.26h-2.26zM517.35 738.80h11.30v2.26h-11.30zM530.91 738.80h4.52v2.26h-4.52zM548.98 738.80h15.82v2.26h-15.82zM481.20 741.06h2.26v2.26h-2.26zM494.76 741.06h2.26v2.26h-2.26zM499.28 741.06h2.26v2.26h-2.26zM503.79 741.06h9.04v2.26h-9.04zM515.09 741.06h2.26v2.26h-2.26zM521.87 741.06h2.26v2.26h-2.26zM526.39 741.06h6.78v2.26h-6.78zM537.69 741.06h2.26v2.26h-2.26zM544.46 741.06h2.26v2.26h-2.26zM548.98 741.06h2.26v2.26h-2.26zM562.54 741.06h2.26v2.26h-2.26zM481.20 743.32h2.26v2.26h-2.26zM485.72 743.32h6.78v2.26h-6.78zM494.76 743.32h2.26v2.26h-2.26zM503.79 743.32h2.26v2.26h-2.26zM515.09 743.32h2.26v2.26h-2.26zM519.61 743.32h4.52v2.26h-4.52zM526.39 743.32h6.78v2.26h-6.78zM542.21 743.32h2.26v2.26h-2.26zM548.98 743.32h2.26v2.26h-2.26zM553.50 743.32h6.78v2.26h-6.78zM562.54 743.32h2.26v2.26h-2.26zM481.20 745.58h2.26v2.26h-2.26zM485.72 745.58h6.78v2.26h-6.78zM494.76 745.58h2.26v2.26h-2.26zM515.09 745.58h2.26v2.26h-2.26zM526.39 745.58h4.52v2.26h-4.52zM533.17 745.58h2.26v2.26h-2.26zM537.69 745.58h6.78v2.26h-6.78zM548.98 745.58h2.26v2.26h-2.26zM553.50 745.58h6.78v2.26h-6.78zM562.54 745.58h2.26v2.26h-2.26zM481.20 747.84h2.26v2.26h-2.26zM485.72 747.84h6.78v2.26h-6.78zM494.76 747.84h2.26v2.26h-2.26zM499.28 747.84h6.78v2.26h-6.78zM508.31 747.84h4.52v2.26h-4.52zM521.87 747.84h6.78v2.26h-6.78zM533.17 747.84h11.30v2.26h-11.30zM548.98 747.84h2.26v2.26h-2.26zM553.50 747.84h6.78v2.26h-6.78zM562.54 747.84h2.26v2.26h-2.26zM481.20 750.10h2.26v2.26h-2.26zM494.76 750.10h2.26v2.26h-2.26zM499.28 750.10h9.04v2.26h-9.04zM521.87 750.10h2.26v2.26h-2.26zM533.17 750.10h6.78v2.26h-6.78zM542.21 750.10h4.52v2.26h-4.52zM548.98 750.10h2.26v2.26h-2.26zM562.54 750.10h2.26v2.26h-2.26zM481.20 752.36h15.82v2.26h-15.82zM499.28 752.36h2.26v2.26h-2.26zM503.79 752.36h2.26v2.26h-2.26zM508.31 752.36h2.26v2.26h-2.26zM512.83 752.36h2.26v2.26h-2.26zM517.35 752.36h2.26v2.26h-2.26zM521.87 752.36h2.26v2.26h-2.26zM526.39 752.36h2.26v2.26h-2.26zM530.91 752.36h2.26v2.26h-2.26zM535.43 752.36h2.26v2.26h-2.26zM539.95 752.36h2.26v2.26h-2.26zM544.46 752.36h2.26v2.26h-2.26zM548.98 752.36h15.82v2.26h-15.82zM499.28 754.62h20.34v2.26h-20.34zM524.13 754.62h11.30v2.26h-11.30zM544.46 754.62h2.26v2.26h-2.26zM481.20 756.88h6.78v2.26h-6.78zM490.24 756.88h6.78v2.26h-6.78zM501.54 756.88h2.26v2.26h-2.26zM506.05 756.88h4.52v2.26h-4.52zM517.35 756.88h6.78v2.26h-6.78zM530.91 756.88h4.52v2.26h-4.52zM548.98 756.88h2.26v2.26h-2.26zM555.76 756.88h9.04v2.26h-9.04zM499.28 759.14h9.04v2.26h-9.04zM521.87 759.14h2.26v2.26h-2.26zM535.43 759.14h2.26v2.26h-2.26zM539.95 759.14h2.26v2.26h-2.26zM548.98 759.14h2.26v2.26h-2.26zM555.76 759.14h6.78v2.26h-6.78zM483.46 761.39h2.26v2.26h-2.26zM494.76 761.39h2.26v2.26h-2.26zM499.28 761.39h4.52v2.26h-4.52zM519.61 761.39h9.04v2.26h-9.04zM530.91 761.39h6.78v2.26h-6.78zM539.95 761.39h4.52v2.26h-4.52zM560.28 761.39h4.52v2.26h-4.52zM481.20 763.65h4.52v2.26h-4.52zM487.98 763.65h2.26v2.26h-2.26zM499.28 763.65h4.52v2.26h-4.52zM508.31 763.65h2.26v2.26h-2.26zM512.83 763.65h4.52v2.26h-4.52zM555.76 763.65h2.26v2.26h-2.26zM481.20 765.91h15.82v2.26h-15.82zM503.79 765.91h2.26v2.26h-2.26zM510.57 765.91h2.26v2.26h-2.26zM517.35 765.91h2.26v2.26h-2.26zM530.91 765.91h4.52v2.26h-4.52zM537.69 765.91h6.78v2.26h-6.78zM546.72 765.91h2.26v2.26h-2.26zM553.50 765.91h4.52v2.26h-4.52zM562.54 765.91h2.26v2.26h-2.26zM487.98 768.17h6.78v2.26h-6.78zM499.28 768.17h6.78v2.26h-6.78zM510.57 768.17h4.52v2.26h-4.52zM521.87 768.17h4.52v2.26h-4.52zM530.91 768.17h2.26v2.26h-2.26zM539.95 768.17h2.26v2.26h-2.26zM544.46 768.17h2.26v2.26h-2.26zM551.24 768.17h2.26v2.26h-2.26zM558.02 768.17h6.78v2.26h-6.78zM481.20 770.43h18.08v2.26h-18.08zM501.54 770.43h15.82v2.26h-15.82zM521.87 770.43h4.52v2.26h-4.52zM528.65 770.43h2.26v2.26h-2.26zM539.95 770.43h2.26v2.26h-2.26zM558.02 770.43h6.78v2.26h-6.78zM481.20 772.69h4.52v2.26h-4.52zM487.98 772.69h6.78v2.26h-6.78zM503.79 772.69h15.82v2.26h-15.82zM526.39 772.69h2.26v2.26h-2.26zM530.91 772.69h11.30v2.26h-11.30zM544.46 772.69h2.26v2.26h-2.26zM548.98 772.69h15.82v2.26h-15.82zM481.20 774.95h2.26v2.26h-2.26zM494.76 774.95h2.26v2.26h-2.26zM501.54 774.95h2.26v2.26h-2.26zM506.05 774.95h2.26v2.26h-2.26zM512.83 774.95h2.26v2.26h-2.26zM526.39 774.95h2.26v2.26h-2.26zM548.98 774.95h11.30v2.26h-11.30zM490.24 777.21h2.26v2.26h-2.26zM506.05 777.21h2.26v2.26h-2.26zM510.57 777.21h6.78v2.26h-6.78zM519.61 777.21h2.26v2.26h-2.26zM542.21 777.21h6.78v2.26h-6.78zM551.24 777.21h2.26v2.26h-2.26zM555.76 777.21h6.78v2.26h-6.78zM485.72 779.47h2.26v2.26h-2.26zM494.76 779.47h4.52v2.26h-4.52zM501.54 779.47h2.26v2.26h-2.26zM508.31 779.47h4.52v2.26h-4.52zM519.61 779.47h4.52v2.26h-4.52zM526.39 779.47h2.26v2.26h-2.26zM530.91 779.47h2.26v2.26h-2.26zM537.69 779.47h2.26v2.26h-2.26zM548.98 779.47h2.26v2.26h-2.26zM555.76 779.47h9.04v2.26h-9.04zM481.20 781.73h9.04v2.26h-9.04zM492.50 781.73h2.26v2.26h-2.26zM501.54 781.73h2.26v2.26h-2.26zM510.57 781.73h6.78v2.26h-6.78zM521.87 781.73h11.30v2.26h-11.30zM535.43 781.73h2.26v2.26h-2.26zM539.95 781.73h4.52v2.26h-4.52zM546.72 781.73h4.52v2.26h-4.52zM485.72 783.99h2.26v2.26h-2.26zM494.76 783.99h2.26v2.26h-2.26zM499.28 783.99h4.52v2.26h-4.52zM506.05 783.99h2.26v2.26h-2.26zM510.57 783.99h4.52v2.26h-4.52zM519.61 783.99h2.26v2.26h-2.26zM524.13 783.99h2.26v2.26h-2.26zM528.65 783.99h9.04v2.26h-9.04zM542.21 783.99h2.26v2.26h-2.26zM551.24 783.99h13.56v2.26h-13.56zM481.20 786.25h2.26v2.26h-2.26zM499.28 786.25h9.04v2.26h-9.04zM510.57 786.25h4.52v2.26h-4.52zM519.61 786.25h11.30v2.26h-11.30zM537.69 786.25h4.52v2.26h-4.52zM551.24 786.25h4.52v2.26h-4.52zM481.20 788.51h6.78v2.26h-6.78zM494.76 788.51h2.26v2.26h-2.26zM508.31 788.51h2.26v2.26h-2.26zM512.83 788.51h2.26v2.26h-2.26zM519.61 788.51h6.78v2.26h-6.78zM530.91 788.51h4.52v2.26h-4.52zM539.95 788.51h4.52v2.26h-4.52zM546.72 788.51h6.78v2.26h-6.78zM562.54 788.51h2.26v2.26h-2.26zM481.20 790.77h2.26v2.26h-2.26zM487.98 790.77h4.52v2.26h-4.52zM501.54 790.77h2.26v2.26h-2.26zM508.31 790.77h9.04v2.26h-9.04zM519.61 790.77h2.26v2.26h-2.26zM528.65 790.77h2.26v2.26h-2.26zM533.17 790.77h2.26v2.26h-2.26zM537.69 790.77h4.52v2.26h-4.52zM544.46 790.77h2.26v2.26h-2.26zM551.24 790.77h6.78v2.26h-6.78zM562.54 790.77h2.26v2.26h-2.26zM481.20 793.03h4.52v2.26h-4.52zM487.98 793.03h11.30v2.26h-11.30zM510.57 793.03h4.52v2.26h-4.52zM519.61 793.03h2.26v2.26h-2.26zM528.65 793.03h11.30v2.26h-11.30zM542.21 793.03h2.26v2.26h-2.26zM546.72 793.03h4.52v2.26h-4.52zM558.02 793.03h2.26v2.26h-2.26zM562.54 793.03h2.26v2.26h-2.26zM483.46 795.29h4.52v2.26h-4.52zM490.24 795.29h4.52v2.26h-4.52zM501.54 795.29h6.78v2.26h-6.78zM510.57 795.29h2.26v2.26h-2.26zM517.35 795.29h4.52v2.26h-4.52zM526.39 795.29h2.26v2.26h-2.26zM530.91 795.29h6.78v2.26h-6.78zM546.72 795.29h4.52v2.26h-4.52zM558.02 795.29h6.78v2.26h-6.78zM485.72 797.55h2.26v2.26h-2.26zM494.76 797.55h2.26v2.26h-2.26zM501.54 797.55h6.78v2.26h-6.78zM510.57 797.55h4.52v2.26h-4.52zM517.35 797.55h6.78v2.26h-6.78zM526.39 797.55h2.26v2.26h-2.26zM535.43 797.55h6.78v2.26h-6.78zM548.98 797.55h4.52v2.26h-4.52zM481.20 799.81h2.26v2.26h-2.26zM485.72 799.81h2.26v2.26h-2.26zM497.02 799.81h9.04v2.26h-9.04zM510.57 799.81h4.52v2.26h-4.52zM519.61 799.81h2.26v2.26h-2.26zM528.65 799.81h2.26v2.26h-2.26zM539.95 799.81h9.04v2.26h-9.04zM562.54 799.81h2.26v2.26h-2.26zM485.72 802.06h2.26v2.26h-2.26zM492.50 802.06h13.56v2.26h-13.56zM510.57 802.06h6.78v2.26h-6.78zM519.61 802.06h6.78v2.26h-6.78zM530.91 802.06h6.78v2.26h-6.78zM542.21 802.06h15.82v2.26h-15.82zM562.54 802.06h2.26v2.26h-2.26zM499.28 804.32h2.26v2.26h-2.26zM503.79 804.32h2.26v2.26h-2.26zM510.57 804.32h2.26v2.26h-2.26zM519.61 804.32h2.26v2.26h-2.26zM524.13 804.32h4.52v2.26h-4.52zM535.43 804.32h2.26v2.26h-2.26zM542.21 804.32h4.52v2.26h-4.52zM553.50 804.32h4.52v2.26h-4.52zM481.20 806.58h15.82v2.26h-15.82zM499.28 806.58h2.26v2.26h-2.26zM503.79 806.58h2.26v2.26h-2.26zM508.31 806.58h4.52v2.26h-4.52zM517.35 806.58h4.52v2.26h-4.52zM526.39 806.58h4.52v2.26h-4.52zM537.69 806.58h2.26v2.26h-2.26zM542.21 806.58h4.52v2.26h-4.52zM548.98 806.58h2.26v2.26h-2.26zM553.50 806.58h2.26v2.26h-2.26zM562.54 806.58h2.26v2.26h-2.26zM481.20 808.84h2.26v2.26h-2.26zM494.76 808.84h2.26v2.26h-2.26zM501.54 808.84h4.52v2.26h-4.52zM510.57 808.84h15.82v2.26h-15.82zM530.91 808.84h2.26v2.26h-2.26zM537.69 808.84h2.26v2.26h-2.26zM542.21 808.84h4.52v2.26h-4.52zM553.50 808.84h2.26v2.26h-2.26zM562.54 808.84h2.26v2.26h-2.26zM481.20 811.10h2.26v2.26h-2.26zM485.72 811.10h6.78v2.26h-6.78zM494.76 811.10h2.26v2.26h-2.26zM512.83 811.10h2.26v2.26h-2.26zM519.61 811.10h2.26v2.26h-2.26zM528.65 811.10h27.11v2.26h-27.11zM558.02 811.10h2.26v2.26h-2.26zM562.54 811.10h2.26v2.26h-2.26zM481.20 813.36h2.26v2.26h-2.26zM485.72 813.36h6.78v2.26h-6.78zM494.76 813.36h2.26v2.26h-2.26zM506.05 813.36h2.26v2.26h-2.26zM515.09 813.36h2.26v2.26h-2.26zM526.39 813.36h2.26v2.26h-2.26zM537.69 813.36h2.26v2.26h-2.26zM544.46 813.36h4.52v2.26h-4.52zM551.24 813.36h2.26v2.26h-2.26zM555.76 813.36h2.26v2.26h-2.26zM560.28 813.36h4.52v2.26h-4.52zM481.20 815.62h2.26v2.26h-2.26zM485.72 815.62h6.78v2.26h-6.78zM494.76 815.62h2.26v2.26h-2.26zM501.54 815.62h15.82v2.26h-15.82zM524.13 815.62h2.26v2.26h-2.26zM528.65 815.62h2.26v2.26h-2.26zM546.72 815.62h2.26v2.26h-2.26zM558.02 815.62h2.26v2.26h-2.26zM481.20 817.88h2.26v2.26h-2.26zM494.76 817.88h2.26v2.26h-2.26zM506.05 817.88h2.26v2.26h-2.26zM510.57 817.88h2.26v2.26h-2.26zM515.09 817.88h2.26v2.26h-2.26zM526.39 817.88h9.04v2.26h-9.04zM544.46 817.88h4.52v2.26h-4.52zM551.24 817.88h13.56v2.26h-13.56zM481.20 820.14h15.82v2.26h-15.82zM503.79 820.14h2.26v2.26h-2.26zM510.57 820.14h2.26v2.26h-2.26zM515.09 820.14h6.78v2.26h-6.78zM528.65 820.14h6.78v2.26h-6.78zM551.24 820.14h2.26v2.26h-2.26zM555.76 820.14h9.04v2.26h-9.04z" fill="#4c4c4c" filter="url(#bl)"/>
<g filter="url(#bl)"><rect x="511.7" y="768.7" width="22.6" height="22.6" rx="1.5" fill="#f25555" stroke="#fff" stroke-width="1"/><rect x="513.6" y="770.6" width="18.8" height="18.8" fill="none" stroke="#fbd0d0" stroke-width="0.6"/><g font-family="'Liberation Sans','Noto Sans CJK SC',sans-serif" font-size="9.2" font-weight="500" fill="#fff" text-anchor="middle"><text x="518.4" y="779.6">以</text><text x="527.8" y="779.6">聚</text><text x="518.4" y="788.8">图</text><text x="527.8" y="788.8">版</text></g></g>
<g><g filter="url(#gl)" opacity="0.35"><text x="475" y="847.2" font-family="'Liberation Sans',sans-serif" font-weight="bold" font-size="20" textLength="97" lengthAdjust="spacingAndGlyphs" stroke="#888" stroke-width="3.5" fill="#888">6xiu.com</text></g><path d="M496 831.6C515 825.5 548 825 573.5 839.5C552 830 518 829 496 831.6Z" fill="#f08890" stroke="#fff" stroke-width="2.2" paint-order="stroke"/><text x="475" y="847.2" font-family="'Liberation Sans',sans-serif" font-weight="bold" font-size="20" textLength="97" lengthAdjust="spacingAndGlyphs" stroke="#fff" stroke-width="3" stroke-linejoin="round" fill="#fff">6xiu.com</text><path d="M496 831.6C515 825.5 548 825 573.5 839.5C552 830 518 829 496 831.6Z" fill="#f08890"/><text x="475" y="847.2" font-family="'Liberation Sans',sans-serif" font-weight="bold" font-size="20" textLength="97" lengthAdjust="spacingAndGlyphs" stroke="#f08890" stroke-width="0.9" stroke-linejoin="round" fill="#f08890">6xiu.com</text></g>
</svg>
</body>
</html>
